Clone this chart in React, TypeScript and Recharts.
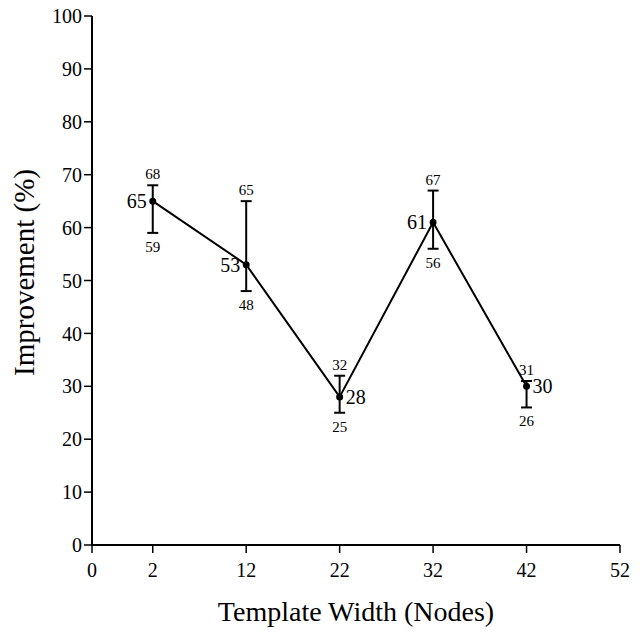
import React from "react";
import {
  LineChart,
  Line,
  XAxis,
  YAxis,
  ErrorBar,
  LabelList,
} from "recharts";

// template widths (nodes) and measured improvement (%), with the min/max range
const widths = [2, 12, 22, 32, 42];
const improvement = [65, 53, 28, 61, 30];
const lows = [59, 48, 25, 56, 26];
const highs = [68, 65, 32, 67, 31];

// the original x axis is broken: its origin ("0") sits a bit closer than scale
const X_ORIGIN = -4.5;
const xTicks = [X_ORIGIN, 2, 12, 22, 32, 42, 52];
const yTicks = [0, 10, 20, 30, 40, 50, 60, 70, 80, 90, 100];

const data = widths.map((w, i) => ({
  x: w,
  mean: improvement[i],
  low: lows[i],
  high: highs[i],
  err: [improvement[i] - lows[i], highs[i] - improvement[i]],
}));

const FONT = '"Liberation Serif", "Times New Roman", serif';
const labelsOnRight = [22, 42];

function MeanLabel(props: any) {
  const { x, y, value, index } = props;
  const right = labelsOnRight.includes(widths[index]);
  return (
    <text
      x={right ? x + 6 : x - 6}
      y={y + 7}
      textAnchor={right ? "start" : "end"}
      fontSize={20}
      fontFamily={FONT}
      fill="#000"
    >
      {value}
    </text>
  );
}

function HighLabel(props: any) {
  const { x, y, value } = props;
  return (
    <text x={x} y={y - 6} textAnchor="middle" fontSize={15} fontFamily={FONT} fill="#000">
      {value}
    </text>
  );
}

function LowLabel(props: any) {
  const { x, y, value } = props;
  return (
    <text x={x} y={y + 19} textAnchor="middle" fontSize={15} fontFamily={FONT} fill="#000">
      {value}
    </text>
  );
}

function YTitle(props: any) {
  const { viewBox } = props;
  const cy = viewBox.y + viewBox.height / 2 - 8;
  return (
    <text
      x={34}
      y={cy}
      transform={`rotate(-90, 34, ${cy})`}
      textAnchor="middle"
      fontSize={29}
      fontFamily={FONT}
      fill="#000"
    >
      Improvement (%)
    </text>
  );
}

export default function App() {
  return (
    <div style={{ position: "absolute", left: 0, top: 0, background: "#fff" }}>
      <LineChart
        width={643}
        height={636}
        data={data}
        margin={{ top: 16, right: 23, left: 32, bottom: 11 }}
      >
        <XAxis
          type="number"
          dataKey="x"
          domain={[X_ORIGIN, 52]}
          ticks={xTicks}
          allowDataOverflow
          tickFormatter={(v: number) => (v === X_ORIGIN ? "0" : String(v))}
          height={80}
          tickSize={8}
          tickMargin={10}
          axisLine={{ stroke: "#000", strokeWidth: 2 }}
          tickLine={{ stroke: "#000", strokeWidth: 1.5 }}
          tick={{ fill: "#000", fontSize: 20, fontFamily: FONT }}
          label={{
            value: "Template Width (Nodes)",
            position: "insideBottom",
            offset: 4,
            fontSize: 28,
            fontFamily: FONT,
            fill: "#000",
          }}
        />
        <YAxis
          type="number"
          domain={[0, 100]}
          ticks={yTicks}
          width={60}
          tickSize={8}
          tickMargin={2}
          axisLine={{ stroke: "#000", strokeWidth: 2 }}
          tickLine={{ stroke: "#000", strokeWidth: 1.5 }}
          tick={{ fill: "#000", fontSize: 20, fontFamily: FONT }}
          label={{ content: YTitle }}
        />
        <Line
          dataKey="high"
          stroke="none"
          dot={false}
          activeDot={false}
          legendType="none"
          isAnimationActive={false}
        >
          <LabelList dataKey="high" content={HighLabel} />
        </Line>
        <Line
          dataKey="low"
          stroke="none"
          dot={false}
          activeDot={false}
          legendType="none"
          isAnimationActive={false}
        >
          <LabelList dataKey="low" content={LowLabel} />
        </Line>
        <Line
          dataKey="mean"
          stroke="#000"
          strokeWidth={2}
          dot={{ r: 2.5, fill: "#000", stroke: "#000" }}
          activeDot={false}
          isAnimationActive={false}
        >
          <ErrorBar dataKey="err" width={5.5} stroke="#000" strokeWidth={2} direction="y" />
          <LabelList dataKey="mean" content={MeanLabel} />
        </Line>
      </LineChart>
    </div>
  );
}
